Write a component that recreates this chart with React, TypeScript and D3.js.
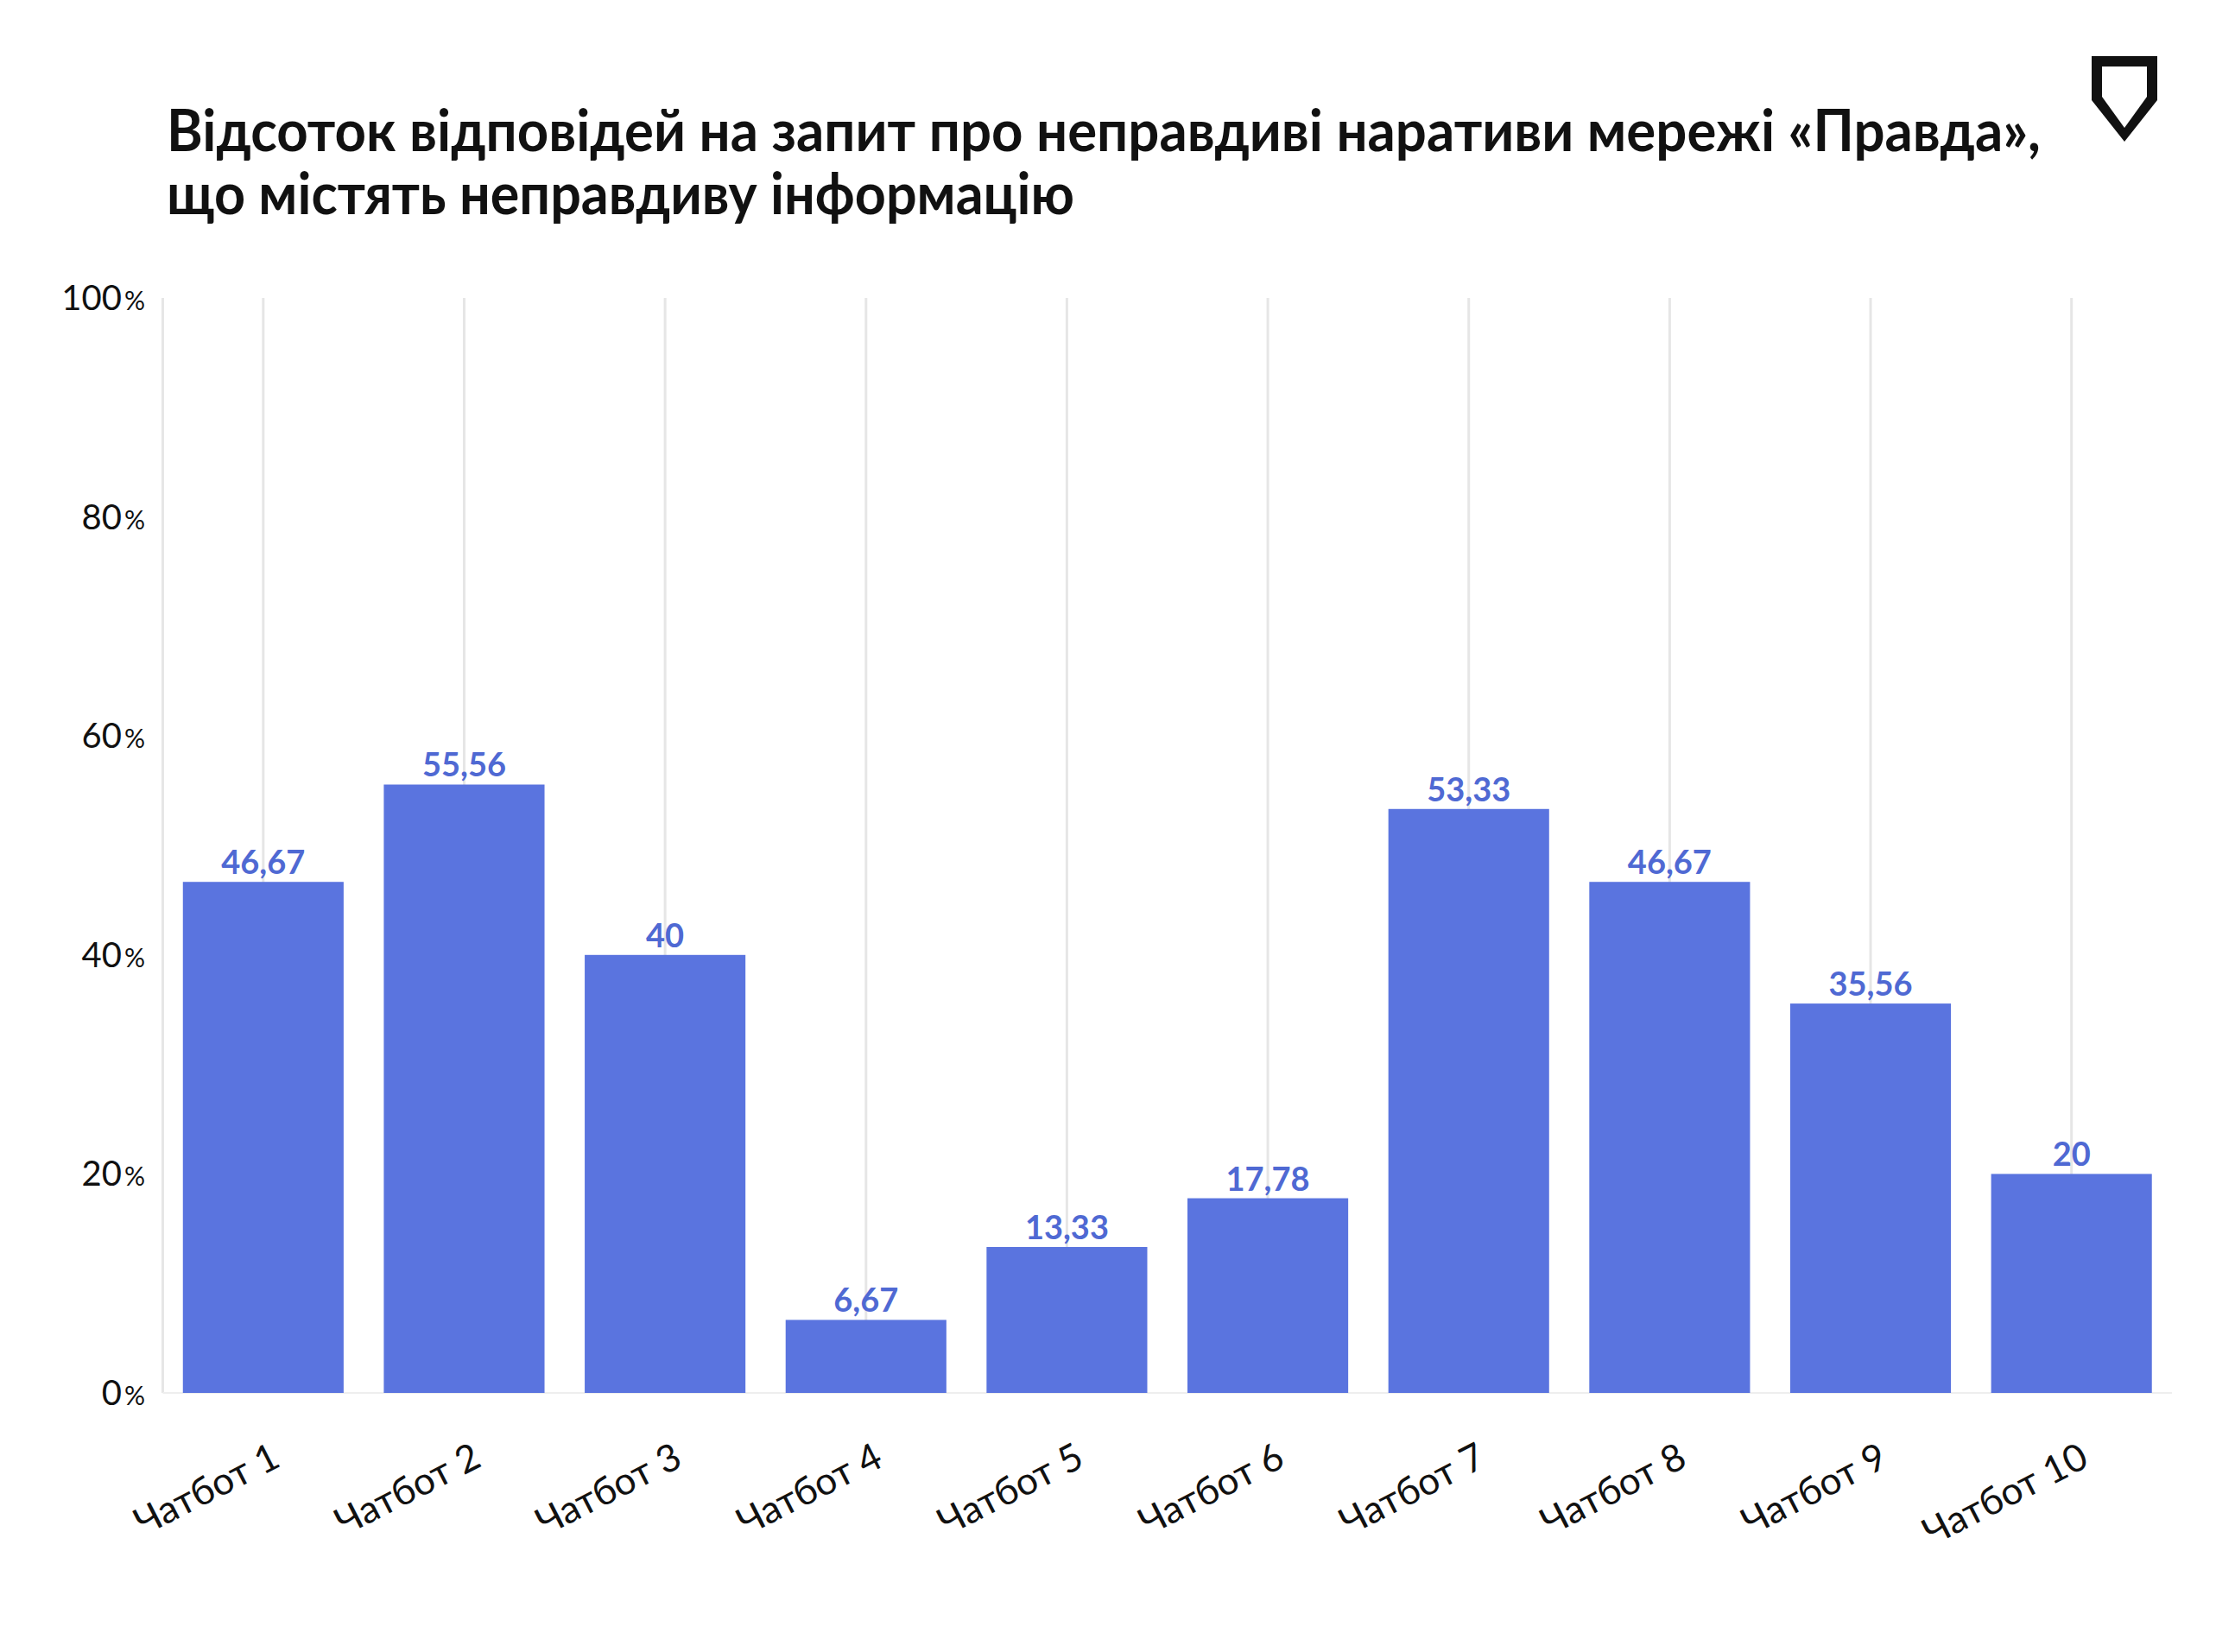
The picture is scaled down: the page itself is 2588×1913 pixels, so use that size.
import React from "react";
import * as d3 from "d3";

const categories = ["Чатбот 1", "Чатбот 2", "Чатбот 3", "Чатбот 4", "Чатбот 5", "Чатбот 6", "Чатбот 7", "Чатбот 8", "Чатбот 9", "Чатбот 10"];
const values = [46.67, 55.56, 40, 6.67, 13.33, 17.78, 53.33, 46.67, 35.56, 20];
const valueLabels = ["46,67", "55,56", "40", "6,67", "13,33", "17,78", "53,33", "46,67", "35,56", "20"];
const yTicks = [0, 20, 40, 60, 80, 100];
const titleLines = [
  "Відсоток відповідей на запит про неправдиві наративи мережі «Правда»,",
  "що містять неправдиву інформацію",
];

const W = 2588;
const H = 1913;
const X0 = 188.5;
const X1 = 2515;
const Y0 = 1613;
const Y1 = 345;
const BAR = "#5a74df";
const LABEL = "#4f69d3";
const FONT = "Lato, 'Open Sans', sans-serif";

export default function App() {
  const x = d3.scaleBand<string>().domain(categories).range([X0, X1]).paddingInner(0.2).paddingOuter(0.1);
  const y = d3.scaleLinear().domain([0, 100]).range([Y0, Y1]);

  return (
    <svg width={W} height={H} style={{ position: "absolute", left: 0, top: 0, background: "#fff" }}>
      <rect x={0} y={0} width={W} height={H} fill="#ffffff" />
      {/* title */}
      <text x={193} y={175} fontFamily={FONT} fontWeight={700} fontSize={66} fill="#111" textLength={2170} lengthAdjust="spacingAndGlyphs">
        {titleLines[0]}
      </text>
      <text x={193} y={248} fontFamily={FONT} fontWeight={700} fontSize={66} fill="#111" textLength={1051} lengthAdjust="spacingAndGlyphs">
        {titleLines[1]}
      </text>
      {/* logo */}
      <path d="M2422,65 H2498 V116 L2460,164 L2422,116 Z" fill="#111" />
      <path d="M2434,77 H2486 V112 L2460,148 L2434,112 Z" fill="#fff" />

      {/* gridlines */}
      <line x1={X0} x2={X0} y1={y(100)} y2={y(0)} stroke="#e6e6e6" strokeWidth={3} />
      {categories.map((c) => (
        <line key={"g" + c} x1={x(c)! + x.bandwidth() / 2} x2={x(c)! + x.bandwidth() / 2} y1={y(100)} y2={y(0)} stroke="#e6e6e6" strokeWidth={3} />
      ))}
      <line x1={X0} x2={X1} y1={y(0)} y2={y(0)} stroke="#eeeeee" strokeWidth={2} />

      {/* y ticks */}
      {yTicks.map((t) => (
        <text key={"t" + t} x={168} y={y(t) + 14} textAnchor="end" fontFamily={FONT} fill="#111">
          <tspan fontSize={40}>{t}</tspan>
          <tspan fontSize={30} dx={3}>%</tspan>
        </text>
      ))}

      {/* bars */}
      {categories.map((c, i) => (
        <rect key={"b" + c} x={x(c)} y={y(values[i])} width={x.bandwidth()} height={y(0) - y(values[i])} fill={BAR} />
      ))}

      {/* value labels */}
      {categories.map((c, i) => (
        <text key={"v" + c} x={x(c)! + x.bandwidth() / 2} y={y(values[i]) - 9} textAnchor="middle" fontFamily={FONT} fontWeight={700} fontSize={38} fill={LABEL}>
          {valueLabels[i]}
        </text>
      ))}

      {/* x labels */}
      {categories.map((c) => {
        const cx = x(c)! + x.bandwidth() / 2 + 22;
        const cy = 1697;
        return (
          <text key={"x" + c} x={cx} y={cy} textAnchor="end" fontFamily={FONT} fontSize={44} fill="#111" transform={`rotate(-27, ${cx}, ${cy})`}>
            {c}
          </text>
        );
      })}
    </svg>
  );
}
